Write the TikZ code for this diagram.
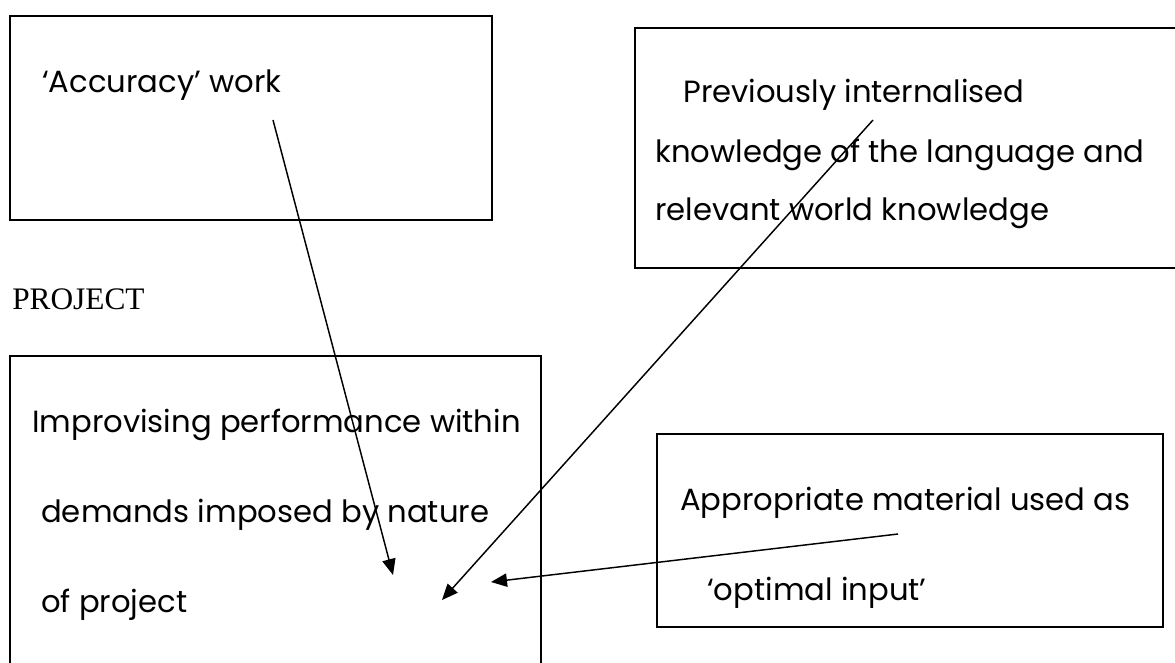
\documentclass[tikz,border=0pt]{standalone}
\usepackage{fontspec}
\setmainfont{Liberation Serif}
\newfontfamily\boxfont{Poppins}
\usetikzlibrary{positioning,fit,arrows.meta}

\begin{document}
\begin{tikzpicture}[x=0.75pt,y=-0.75pt]

\tikzstyle{bordered} = [rectangle,draw,line width=1.3pt,inner sep=0,outer sep=0]
\tikzstyle{boxtext} = [anchor=base west,inner sep=0,font=\boxfont\fontsize{23}{27}\selectfont]
\tikzstyle{arrow} = [draw,line width=1.1pt,-{Triangle[length=12pt,width=10pt]}]

\useasboundingbox (0,0) rectangle (1175,662);

% boxes
\node [bordered, fit={(10,16) (492,220)}] (accuracy) {};
\node [bordered, fit={(635,28) (1185,268)}] (knowledge) {};
\node [bordered, fit={(10,356) (541,675)}] (project) {};
\node [bordered, fit={(657,434) (1163,627)}] (material) {};

\node [anchor=base west, inner sep=0, font=\fontsize{23.5}{28}\selectfont] (title) at (12,309) {PROJECT};

% texts
\node [boxtext] (accuracy_1) at (42,92) {‘Accuracy’ work};

\node [boxtext] (knowledge_1) at (683,102) {Previously internalised};
\node [boxtext] (knowledge_2) at (655,162) {knowledge of the language and};
\node [boxtext] (knowledge_3) at (655,220) {relevant world knowledge};

\node [boxtext] (project_1) at (32,432) {Improvising performance within};
\node [boxtext] (project_2) at (41,522) {demands imposed by nature};
\node [boxtext] (project_3) at (41,612) {of project};

\node [boxtext] (material_1) at (680,510) {Appropriate material used as};
\node [boxtext] (material_2) at (707,600) {‘optimal input’};

% arrow ends
\coordinate (from_accuracy) at (273,120);
\coordinate (from_knowledge) at (873,120);
\coordinate (from_material) at (898,534);
\coordinate (to_project_1) at (393,575);
\coordinate (to_project_2) at (442,600);
\coordinate (to_project_3) at (491,582);

\path[arrow] (from_accuracy) -- (to_project_1);
\path[arrow] (from_knowledge) -- (to_project_2);
\path[arrow] (from_material) -- (to_project_3);
\end{tikzpicture}
\end{document}
